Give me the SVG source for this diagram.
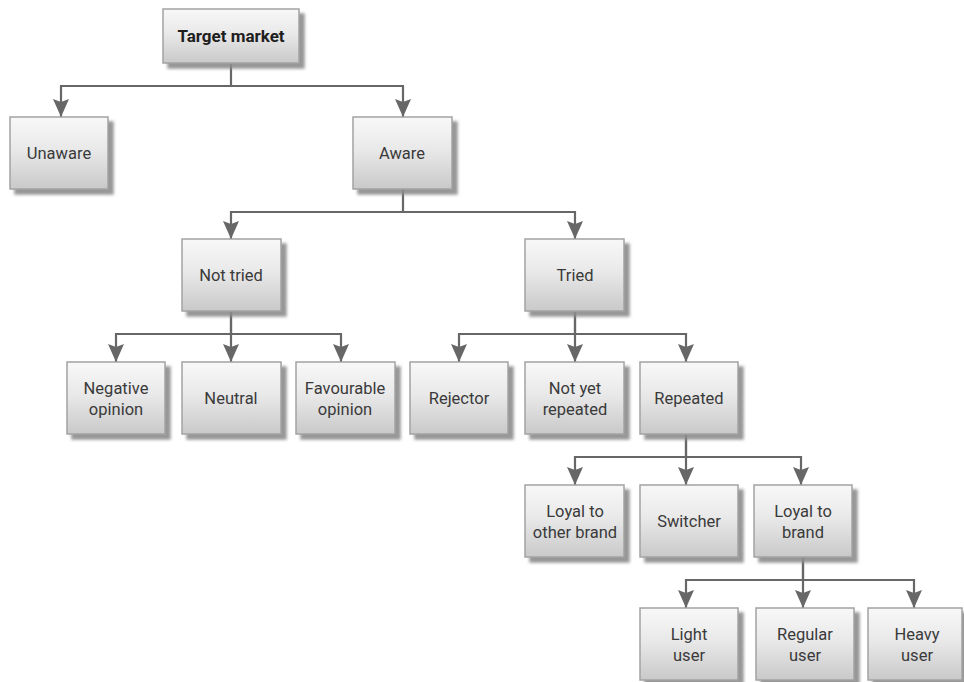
<svg xmlns="http://www.w3.org/2000/svg" width="964" height="682" viewBox="0 0 964 682">
  <defs>
    <linearGradient id="boxFill" x1="0" y1="0" x2="0" y2="1">
      <stop offset="0" stop-color="#f8f8f8"/>
      <stop offset="0.45" stop-color="#e9e9e9"/>
      <stop offset="1" stop-color="#c9c9c9"/>
    </linearGradient>
    <filter id="shadow" x="-10%" y="-10%" width="130%" height="130%">
      <feDropShadow dx="5" dy="5" stdDeviation="1.4" flood-color="#8c8c8c" flood-opacity="0.9"/>
    </filter>
    <marker id="arrow" markerUnits="userSpaceOnUse" viewBox="0 0 18 16" refX="18" refY="8" markerWidth="18" markerHeight="16" orient="auto">
      <path d="M0,0 L18,8 L0,16 L3,8 z" fill="#676767"/>
    </marker>
  </defs>
  <style>
    .box { fill: url(#boxFill); stroke: #a3a3a3; stroke-width: 1.5; filter: url(#shadow); }
    .lbl { font-family: Roboto, "Liberation Sans", sans-serif; font-size: 16.5px; fill: #3a3a3a; text-anchor: middle; }
    .bold { font-weight: bold; fill: #1e1e1e; font-size: 17px; }
    .con { fill: none; stroke: #676767; stroke-width: 2.2; marker-end: url(#arrow); }
  </style>
  <rect width="964" height="682" fill="#ffffff"/>

  <!-- connectors -->
  <g id="connectors">
    <path class="con" d="M231,63 V86 H61 V117"/>
    <path class="con" d="M231,86 H403 V117"/>
    <path class="con" d="M403,189 V212 H231 V239"/>
    <path class="con" d="M403,212 H575 V239"/>
    <path class="con" d="M231,311 V334 H116 V362"/>
    <path class="con" d="M231,311 V362"/>
    <path class="con" d="M231,334 H341 V362"/>
    <path class="con" d="M575,311 V334 H459 V362"/>
    <path class="con" d="M575,311 V362"/>
    <path class="con" d="M575,334 H686 V362"/>
    <path class="con" d="M686,434 V457 H575 V485"/>
    <path class="con" d="M686,434 V485"/>
    <path class="con" d="M686,457 H801 V485"/>
    <path class="con" d="M803,557 V580 H686 V608"/>
    <path class="con" d="M803,557 V608"/>
    <path class="con" d="M803,580 H914 V608"/>
  </g>

  <!-- nodes -->
  <g id="target-market">
    <rect class="box" x="163" y="9" width="136" height="54"/>
    <text class="lbl bold" x="231" y="42">Target market</text>
  </g>
  <g id="unaware">
    <rect class="box" x="10" y="117" width="98" height="72"/>
    <text class="lbl" x="59" y="159">Unaware</text>
  </g>
  <g id="aware">
    <rect class="box" x="353" y="117" width="99" height="72"/>
    <text class="lbl" x="402" y="159">Aware</text>
  </g>
  <g id="not-tried">
    <rect class="box" x="182" y="239" width="99" height="72"/>
    <text class="lbl" x="231" y="281">Not tried</text>
  </g>
  <g id="tried">
    <rect class="box" x="525" y="239" width="99" height="72"/>
    <text class="lbl" x="575" y="281">Tried</text>
  </g>
  <g id="negative-opinion">
    <rect class="box" x="67" y="362" width="98" height="72"/>
    <text class="lbl" x="116" y="394">Negative</text>
    <text class="lbl" x="116" y="415">opinion</text>
  </g>
  <g id="neutral">
    <rect class="box" x="182" y="362" width="99" height="72"/>
    <text class="lbl" x="231" y="404">Neutral</text>
  </g>
  <g id="favourable-opinion">
    <rect class="box" x="296" y="362" width="99" height="72"/>
    <text class="lbl" x="345" y="394">Favourable</text>
    <text class="lbl" x="345" y="415">opinion</text>
  </g>
  <g id="rejector">
    <rect class="box" x="410" y="362" width="98" height="72"/>
    <text class="lbl" x="459" y="404">Rejector</text>
  </g>
  <g id="not-yet-repeated">
    <rect class="box" x="525" y="362" width="99" height="72"/>
    <text class="lbl" x="575" y="394">Not yet</text>
    <text class="lbl" x="575" y="415">repeated</text>
  </g>
  <g id="repeated">
    <rect class="box" x="640" y="362" width="98" height="72"/>
    <text class="lbl" x="689" y="404">Repeated</text>
  </g>
  <g id="loyal-other-brand">
    <rect class="box" x="525" y="485" width="99" height="72"/>
    <text class="lbl" x="575" y="517">Loyal to</text>
    <text class="lbl" x="575" y="538">other brand</text>
  </g>
  <g id="switcher">
    <rect class="box" x="640" y="485" width="98" height="72"/>
    <text class="lbl" x="689" y="527">Switcher</text>
  </g>
  <g id="loyal-to-brand">
    <rect class="box" x="754" y="485" width="98" height="72"/>
    <text class="lbl" x="803" y="517">Loyal to</text>
    <text class="lbl" x="803" y="538">brand</text>
  </g>
  <g id="light-user">
    <rect class="box" x="640" y="608" width="98" height="72"/>
    <text class="lbl" x="689" y="640">Light</text>
    <text class="lbl" x="689" y="661">user</text>
  </g>
  <g id="regular-user">
    <rect class="box" x="756" y="608" width="98" height="72"/>
    <text class="lbl" x="805" y="640">Regular</text>
    <text class="lbl" x="805" y="661">user</text>
  </g>
  <g id="heavy-user">
    <rect class="box" x="868" y="608" width="94" height="72"/>
    <text class="lbl" x="917" y="640">Heavy</text>
    <text class="lbl" x="917" y="661">user</text>
  </g>
</svg>
